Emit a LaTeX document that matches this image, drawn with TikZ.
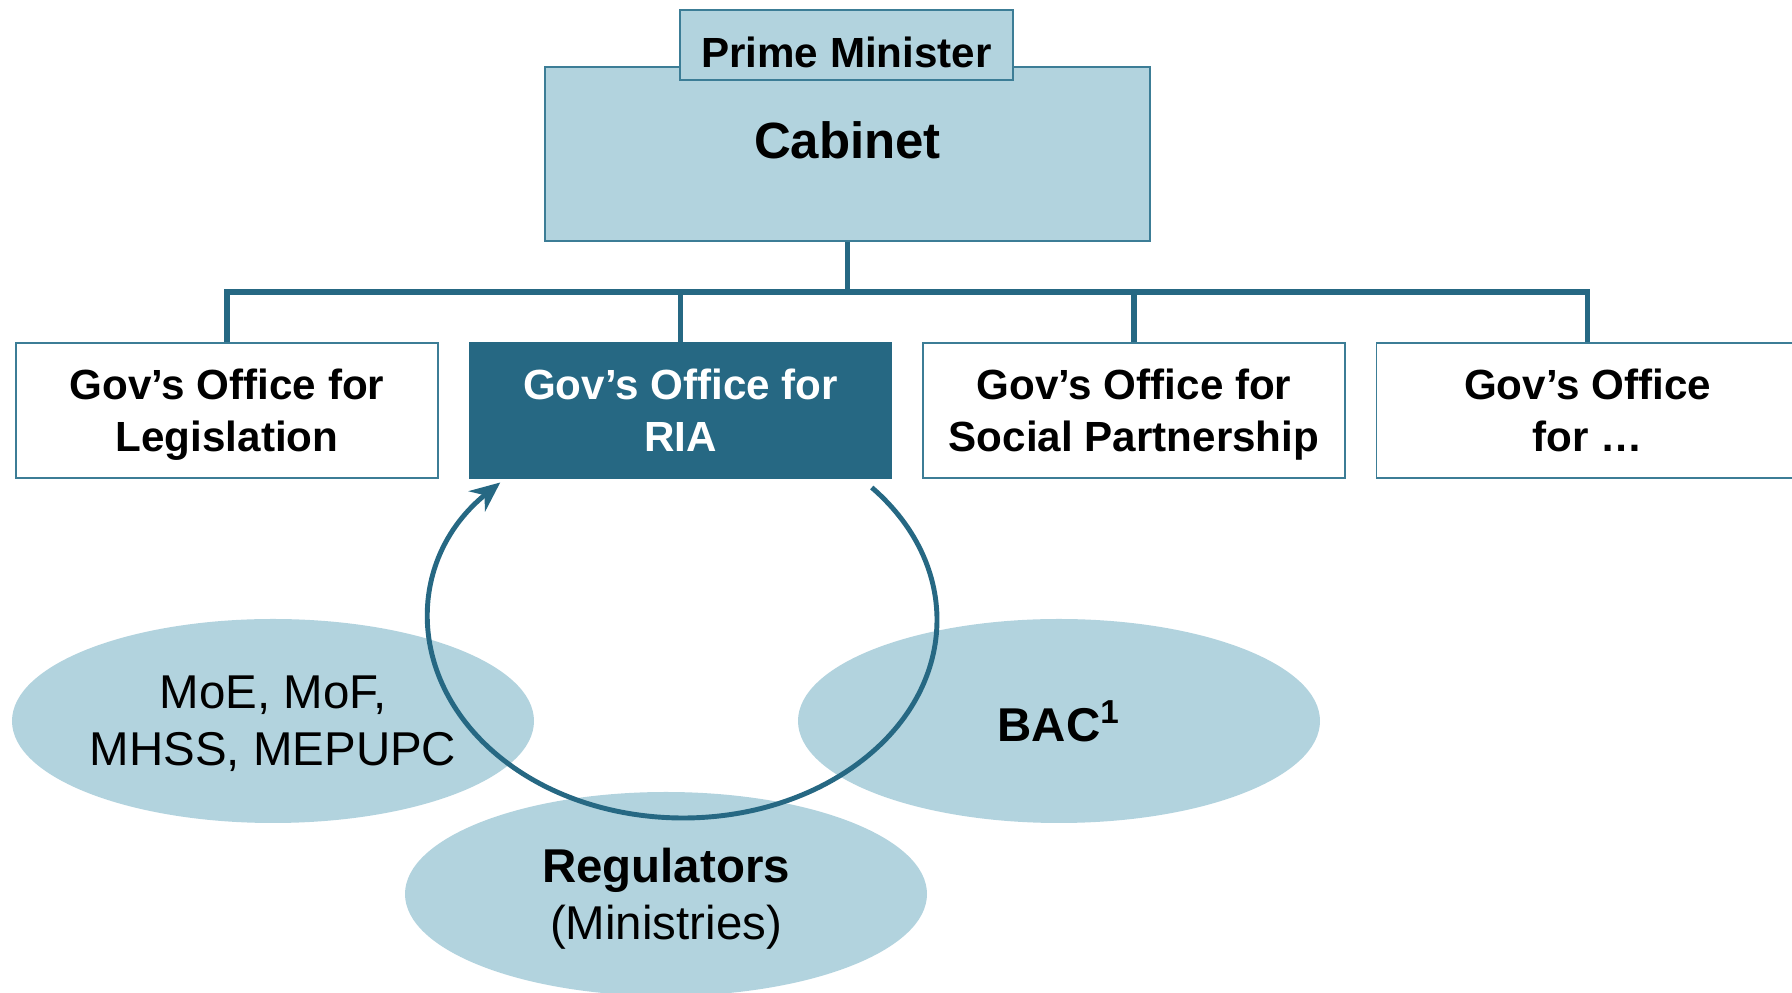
\documentclass[tikz,border=0pt]{standalone}
\usepackage{fontspec}
\setmainfont{Liberation Sans}
\usetikzlibrary{shapes.geometric, arrows.meta, positioning}
\definecolor{riablue}{RGB}{38,104,131}
\definecolor{paleblue}{RGB}{178,211,222}
\definecolor{lineblue}{RGB}{60,125,150}

\begin{document}
\begin{tikzpicture}[
        orgbox/.style={draw=lineblue, line width=0.5pt, minimum width=4.22cm, minimum height=1.35cm, text depth=0pt, align=center, font=\fontsize{12}{14.8}\selectfont\bfseries},
        topbox/.style={draw=lineblue, fill=paleblue, line width=0.5pt, font=\fontsize{12}{14.8}\selectfont\bfseries},
        blob/.style={ellipse, fill=paleblue, minimum width=5.22cm, minimum height=2.04cm, inner sep=0pt, text depth=0pt, align=center, font=\fontsize{13.5}{16.2}\selectfont},
        conn/.style={riablue, line width=1.5pt}]
        \useasboundingbox (0,0) rectangle (17.92,9.93);
        % Ellipses
        \node[blob] (moe) at (2.73,2.72) {MoE, MoF,\\MHSS, MEPUPC};
        \node[blob, font=\fontsize{13.5}{16.2}\selectfont\bfseries] (bac) at (10.59,2.72) {BAC\textsuperscript{1}};
        \node[blob] (reg) at (6.66,0.99) {\textbf{Regulators}\\(Ministries)};
        % Cabinet and PM
        \node[topbox, minimum width=6.05cm, minimum height=1.74cm, text depth=0.27cm, font=\fontsize{14.5}{17}\selectfont\bfseries] (cab) at (8.475,8.39) {Cabinet};
        \node[topbox, minimum width=3.33cm, minimum height=0.70cm, text height=0.46cm, inner sep=0pt] (pm) at (8.465,9.48) {Prime Minister};
        % Offices
        \node[orgbox] (leg) at (2.27,5.825) {Gov’s Office for\\Legislation};
        \node[orgbox, fill=riablue, draw=riablue, text=white] (ria) at (6.805,5.825) {Gov’s Office for\\RIA};
        \node[orgbox] (soc) at (11.34,5.825) {Gov’s Office for\\Social Partnership};
        \node[orgbox] (etc) at (15.875,5.825) {Gov’s Office\\for …};
        % Tree lines
        \draw[conn] (cab.south) -- ++(0,-0.5) coordinate (bus);
        \draw[conn] (leg.north) |- (bus) -| (etc.north);
        \draw[conn] (ria.north) -- (ria.north |- bus);
        \draw[conn] (soc.north) -- (soc.north |- bus);
        % RIA loop
        \coordinate (loop) at (6.83,3.73);
        \draw[conn, line width=1.4pt, -{Stealth[length=0.3cm, width=0.26cm]}] ([shift={(42:2.54cm and 1.98cm)}]loop) arc[start angle=42, end angle=-224, x radius=2.54cm, y radius=1.98cm];
    \end{tikzpicture}
\end{document}
